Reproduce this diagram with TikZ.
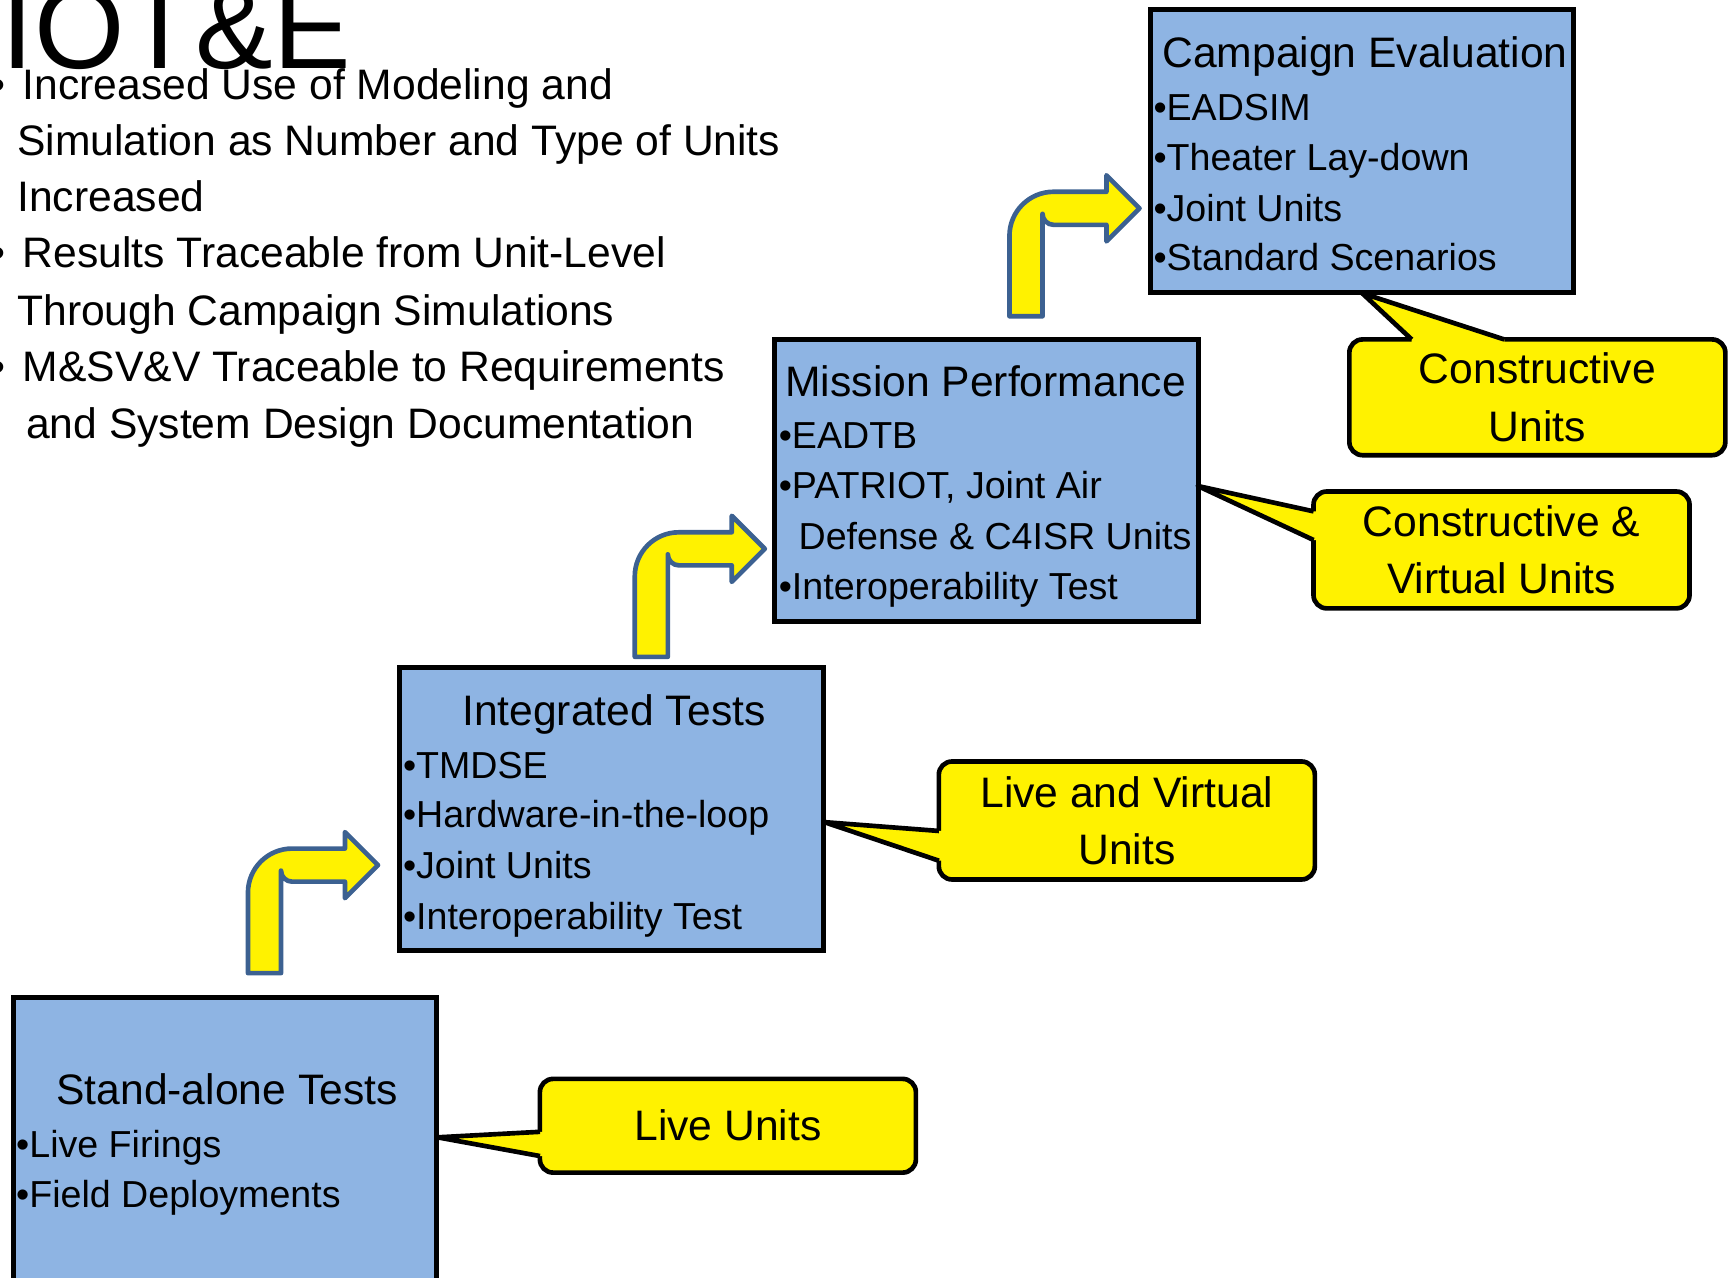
\documentclass[tikz,border=0pt]{standalone}
\usepackage{fontspec}
\setmainfont{Liberation Sans}
\definecolor{stepblue}{HTML}{8EB4E3}
\definecolor{arrowrim}{HTML}{3C6191}
\tikzstyle{levelbox}=[
    draw=black, line width=1.3pt,
    fill=stepblue,
    minimum width=3.84cm, minimum height=2.56cm,
    inner sep=0pt,
]
\tikzstyle{unitcallout}=[
    draw=black, line width=1.2pt,
    fill=yellow,
    rounded corners=0.12cm,
    minimum width=3.41cm,
    inner sep=0pt, align=center,
    font=\fontsize{11}{14.8}\selectfont,
]
\tikzstyle{linetext}=[anchor=base west, inner sep=0pt, font=\fontsize{11}{13}\selectfont]
\tikzstyle{itemtext}=[anchor=base west, inner sep=0pt, font=\fontsize{9.7}{12}\selectfont]
\tikzstyle{headtext}=[anchor=base, inner sep=0pt, font=\fontsize{11}{13}\selectfont]
\tikzstyle{bentarrow}=[draw=arrowrim, line width=1.2pt, fill=yellow, line join=round]
\tikzstyle{pointer}=[draw=black, line width=1.2pt, line join=round]

\begin{document}
\begin{tikzpicture}[x=0.01cm, y=-0.01cm]
        \useasboundingbox (0,0) rectangle (1568,1159);
        \node (title) at (1,62) [anchor=base west, inner sep=0pt, font=\fontsize{30}{31}\selectfont] {IOT\&E};
        \node (b1) at (-9,90) [linetext] {\textbullet};
        \node (b2) at (-9,243) [linetext] {\textbullet};
        \node (b3) at (-9,346) [linetext] {\textbullet};
        \node (l1) at (20,90) [linetext] {Increased Use of Modeling and};
        \node (l2) at (15,141) [linetext] {Simulation as Number and Type of Units};
        \node (l3) at (15,192) [linetext] {Increased};
        \node (l4) at (20,243) [linetext] {Results Traceable from Unit-Level};
        \node (l5) at (15,295) [linetext] {Through Campaign Simulations};
        \node (l6) at (20,346) [linetext] {M\&SV\&V Traceable to Requirements};
        \node (l7) at (23,398) [linetext] {and System Design Documentation};

        \node (sa) at (204,1040) [levelbox, minimum height=2.7cm] {};
        \node (it) at (555,734) [levelbox] {};
        \node (mp) at (895,436) [levelbox] {};
        \node (ce) at (1236,137) [levelbox] {};

        \node (saT) at (206,1002) [headtext] {Stand-alone Tests};
        \node (sa1) at (14,1050) [itemtext] {\textbullet Live Firings};
        \node (sa2) at (14,1096) [itemtext] {\textbullet Field Deployments};

        \node (itT) at (557,658) [headtext] {Integrated Tests};
        \node (it1) at (365,706) [itemtext] {\textbullet TMDSE};
        \node (it2) at (365,751) [itemtext] {\textbullet Hardware-in-the-loop};
        \node (it3) at (365,797) [itemtext] {\textbullet Joint Units};
        \node (it4) at (365,843) [itemtext] {\textbullet Interoperability Test};

        \node (mpT) at (712,360) [linetext] {Mission Performance};
        \node (mp1) at (706,407) [itemtext] {\textbullet EADTB};
        \node (mp2) at (706,452) [itemtext] {\textbullet PATRIOT, Joint Air};
        \node (mp3) at (724,499) [itemtext] {Defense \& C4ISR Units};
        \node (mp4) at (706,544) [itemtext] {\textbullet Interoperability Test};

        \node (ceT) at (1054,61) [linetext] {Campaign Evaluation};
        \node (ce1) at (1046,109) [itemtext] {\textbullet EADSIM};
        \node (ce2) at (1046,155) [itemtext] {\textbullet Theater Lay-down};
        \node (ce3) at (1046,201) [itemtext] {\textbullet Joint Units};
        \node (ce4) at (1046,245) [itemtext] {\textbullet Standard Scenarios};

        \draw[bentarrow, shift={(225,883)}] (0,0) -- (0,-73) arc[start angle=180, end angle=270, radius=40]
            -- (88,-113) -- (88,-128) -- (118,-98) -- (88,-68) -- (88,-83)
            -- (40,-83) arc[start angle=90, end angle=180, radius=10] -- (30,0) -- cycle;
        \draw[bentarrow, shift={(576,596)}] (0,0) -- (0,-73) arc[start angle=180, end angle=270, radius=40]
            -- (88,-113) -- (88,-128) -- (118,-98) -- (88,-68) -- (88,-83)
            -- (40,-83) arc[start angle=90, end angle=180, radius=10] -- (30,0) -- cycle;
        \draw[bentarrow, shift={(916,287)}] (0,0) -- (0,-73) arc[start angle=180, end angle=270, radius=40]
            -- (88,-113) -- (88,-128) -- (118,-98) -- (88,-68) -- (88,-83)
            -- (40,-83) arc[start angle=90, end angle=180, radius=10] -- (30,0) -- cycle;

        \node (lu) at (660.5,1021.5) [unitcallout, minimum height=0.85cm] {Live Units};
        \node (lv) at (1022.5,744.5) [unitcallout, minimum height=1.07cm] {Live and Virtual\\Units};
        \node (cv) at (1362.5,499) [unitcallout, minimum height=1.06cm] {Constructive \&\\Virtual Units};
        \node (cu) at (1395,360.5) [unitcallout, minimum height=1.05cm] {Constructive\\Units};

        \coordinate (luTip) at (397,1032);
        \coordinate (luA) at (490,1027);
        \coordinate (luB) at (490,1049);
        \fill[yellow] (luTip) -- (luA) -- ([xshift=0.9mm]luA) -- ([xshift=0.9mm]luB) -- (luB) -- cycle;
        \draw[pointer] (luA) -- (luTip) -- (luB);

        \coordinate (lvTip) at (748,746);
        \coordinate (lvA) at (852,754);
        \coordinate (lvB) at (852,781);
        \fill[yellow] (lvTip) -- (lvA) -- ([xshift=0.9mm]lvA) -- ([xshift=0.9mm]lvB) -- (lvB) -- cycle;
        \draw[pointer] (lvA) -- (lvTip) -- (lvB);

        \coordinate (cvTip) at (1087,441);
        \coordinate (cvA) at (1192,464);
        \coordinate (cvB) at (1192,490);
        \fill[yellow] (cvTip) -- (cvA) -- ([xshift=0.9mm]cvA) -- ([xshift=0.9mm]cvB) -- (cvB) -- cycle;
        \draw[pointer] (cvA) -- (cvTip) -- (cvB);

        \coordinate (cuTip) at (1236,266);
        \coordinate (cuA) at (1281,308);
        \coordinate (cuB) at (1365,308);
        \fill[yellow] (cuTip) -- (cuA) -- ([yshift=-0.9mm]cuA) -- ([yshift=-0.9mm]cuB) -- (cuB) -- cycle;
        \draw[pointer] (cuA) -- (cuTip) -- (cuB);
    \end{tikzpicture}
\end{document}
